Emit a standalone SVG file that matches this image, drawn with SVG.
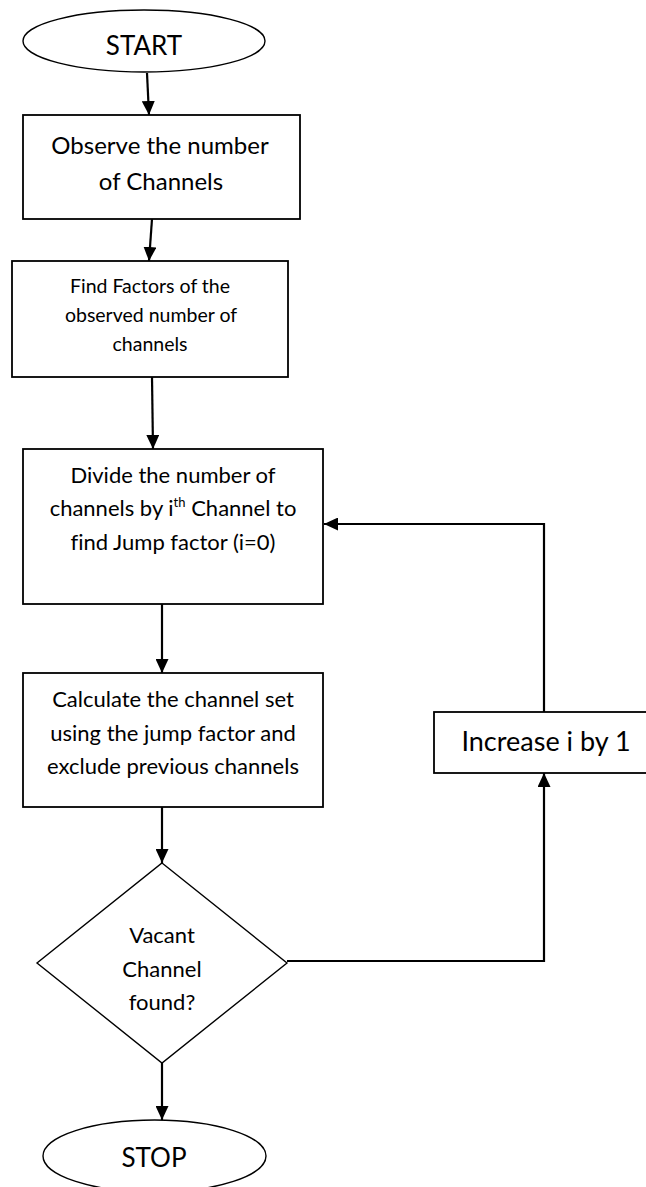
<svg xmlns="http://www.w3.org/2000/svg" width="646" height="1187" viewBox="0 0 646 1187">
<defs>
<marker id="arr" markerUnits="userSpaceOnUse" markerWidth="14" markerHeight="13" refX="14" refY="6.5" orient="auto">
<path d="M0,0 L14,6.5 L0,13 z" fill="#000"/>
</marker>
<style>
.shape{fill:#fff;stroke:#000;stroke-width:1.8}
.thin{fill:#fff;stroke:#000;stroke-width:1.4}
.conn{fill:none;stroke:#000;stroke-width:2.2;marker-end:url(#arr)}
.t{font-family:Lato,"Liberation Sans",sans-serif;fill:#000;text-anchor:middle;font-variant-ligatures:none}
</style>
</defs>
<rect width="646" height="1187" fill="#fff"/>
<g id="connectors">
<path class="conn" d="M147,73 L149,115"/>
<path class="conn" d="M152,219 L149,261"/>
<path class="conn" d="M152,377 L153,449"/>
<path class="conn" d="M162,604 L162,673"/>
<path class="conn" d="M162,807 L162,863"/>
<path class="conn" d="M162,1063 L162,1120"/>
<path class="conn" d="M287,961 H544 V773"/>
<path class="conn" d="M544,712 V524 H324"/>
</g>
<g id="start">
<ellipse class="thin" cx="144" cy="41" rx="121" ry="31"/>
<text class="t" x="144" y="55" font-size="26">START</text>
</g>
<g id="observe">
<rect class="shape" x="23" y="115" width="277" height="104"/>
<text class="t" font-size="24"><tspan x="160" y="154">Observe the number</tspan><tspan x="161" y="190">of Channels</tspan></text>
</g>
<g id="factors">
<rect class="shape" x="12" y="261" width="276" height="116"/>
<text class="t" font-size="19.5"><tspan x="150" y="293">Find Factors of the</tspan><tspan x="151" y="322">observed number of</tspan><tspan x="150" y="351">channels</tspan></text>
</g>
<g id="divide">
<rect class="shape" x="23" y="449" width="300" height="155"/>
<text class="t" font-size="22"><tspan x="173" y="483">Divide the number of</tspan><tspan x="173" y="516">channels by i<tspan dy="-9" font-size="13">th</tspan><tspan dy="9"> Channel to</tspan></tspan><tspan x="173" y="550">find Jump factor (i=0)</tspan></text>
</g>
<g id="calculate">
<rect class="shape" x="23" y="673" width="300" height="134"/>
<text class="t" font-size="22"><tspan x="173" y="707">Calculate the channel set</tspan><tspan x="173" y="741">using the jump factor and</tspan><tspan x="173" y="774">exclude previous channels</tspan></text>
</g>
<g id="vacant">
<polygon class="thin" points="162,863 287,963 162,1063 37,963"/>
<text class="t" font-size="22"><tspan x="162" y="943">Vacant</tspan><tspan x="162" y="977">Channel</tspan><tspan x="162" y="1010">found?</tspan></text>
</g>
<g id="increase">
<rect class="shape" x="434" y="712" width="215" height="61"/>
<text class="t" x="546" y="751" font-size="27">Increase i by 1</text>
</g>
<g id="stop">
<ellipse class="thin" cx="154.5" cy="1156" rx="111.5" ry="36"/>
<text class="t" x="154" y="1167" font-size="26">STOP</text>
</g>
</svg>
